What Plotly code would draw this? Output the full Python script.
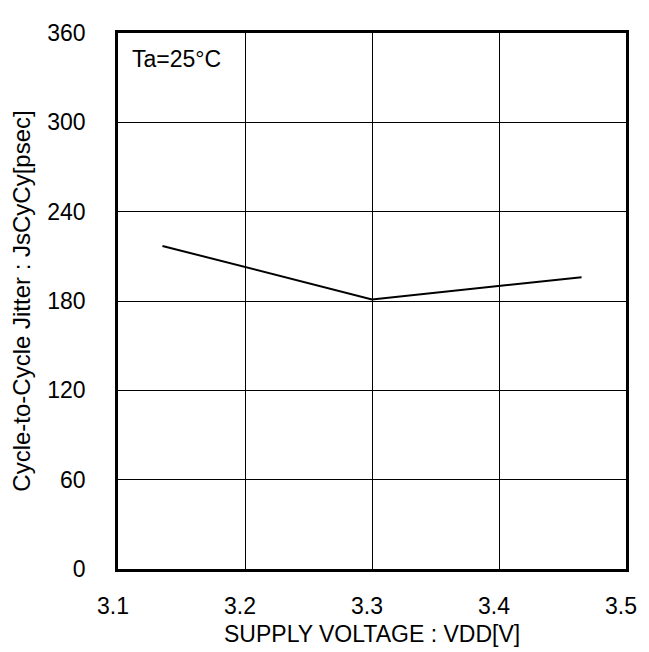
import plotly.graph_objects as go

# 数据
vdd = [3.135, 3.3, 3.465]
jitter = [217, 181, 196]

x_ticks = [3.1, 3.2, 3.3, 3.4, 3.5]
y_ticks = [0, 60, 120, 180, 240, 300, 360]

font = dict(family='Liberation Sans, Arial, sans-serif', size=23, color='black')

fig = go.Figure()

fig.add_trace(go.Scatter(x=vdd, y=jitter, mode='lines',
                         line=dict(color='black', width=2), showlegend=False))

fig.add_annotation(text='Ta=25°C', xref='paper', yref='paper', x=0.024, y=0.951,
                   xanchor='left', yanchor='middle', showarrow=False, font=font)

# x轴标题用注释放置
fig.add_annotation(text='SUPPLY VOLTAGE : VDD[V]', xref='paper', yref='paper',
                   x=0.5, y=-0.122, xanchor='center', yanchor='middle',
                   showarrow=False, font=font)

# 页面 body 默认有 8px 边距，尺寸和边距相应缩小
fig.update_layout(
    width=641, height=644,
    margin=dict(l=101, r=17, t=13, b=83),
    paper_bgcolor='white', plot_bgcolor='white',
    font=font,
    xaxis=dict(range=[3.1, 3.5], tickvals=x_ticks, ticktext=[f'{v:.1f}' for v in x_ticks],
               showgrid=True, gridcolor='black', gridwidth=1,
               showline=True, linecolor='black', linewidth=2.5, mirror=True,
               ticks='', ticklabelstandoff=15, ticklabelshift=-5, zeroline=False),
    yaxis=dict(range=[0, 360], tickvals=y_ticks,
               showgrid=True, gridcolor='black', gridwidth=1,
               showline=True, linecolor='black', linewidth=2.5, mirror=True,
               ticks='', ticklabelstandoff=25, zeroline=False,
               title=dict(text='Cycle-to-Cycle Jitter : JsCyCy[psec]', standoff=10,
                          font=dict(family='Liberation Sans, Arial, sans-serif', size=24, color='black'))),
)

fig.write_html('out.html')
